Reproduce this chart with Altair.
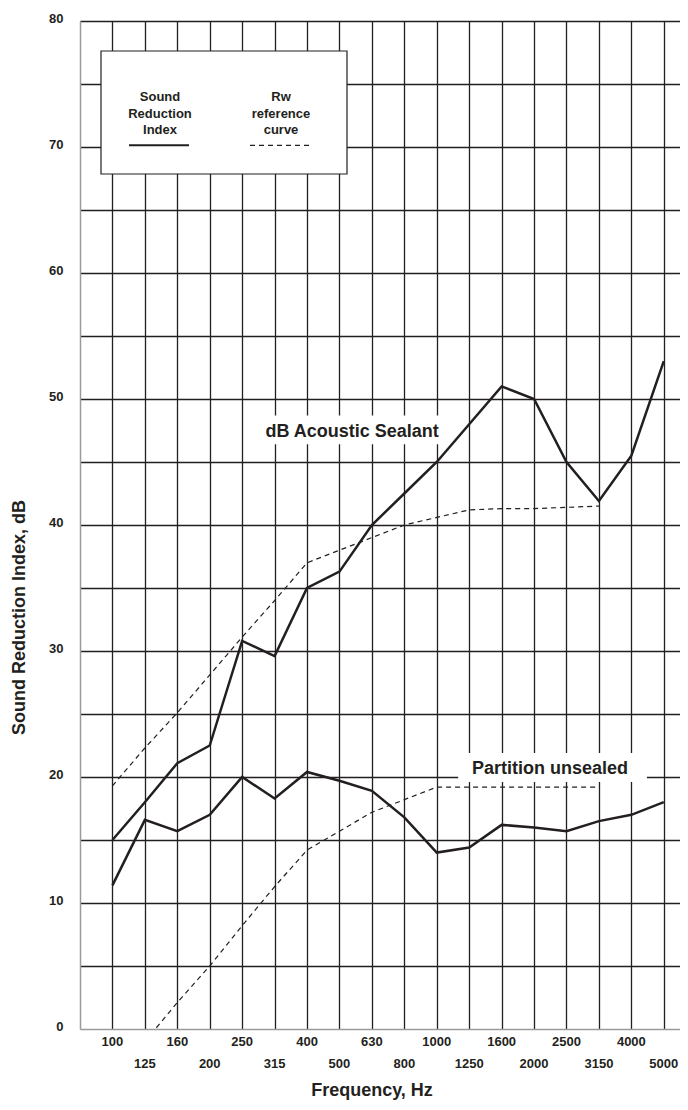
import altair as alt
import pandas as pd

# ---- data ----
bands = ["100", "125", "160", "200", "250", "315", "400", "500", "630",
         "800", "1000", "1250", "1600", "2000", "2500", "3150", "4000", "5000"]

sealed = [15.0, 18.0, 21.1, 22.5, 30.8, 29.6, 35.0, 36.3, 40.0,
          42.5, 45.0, 48.0, 51.0, 50.0, 45.0, 41.9, 45.5, 53.0]
unsealed = [11.4, 16.6, 15.7, 17.0, 20.0, 18.3, 20.4, 19.7, 18.9,
            16.8, 14.0, 14.4, 16.2, 16.0, 15.7, 16.5, 17.0, 18.0]

# Rw reference curves (100..3150 Hz and 125..3150 Hz)
ref_sealed = [19.3, 22.3, 25.1, 28.1, 31.1, 34.0, 37.0, 38.0, 39.0,
              40.0, 40.6, 41.2, 41.3, 41.3, 41.4, 41.5]
ref_unsealed_start = 1  # starts at 125 Hz
ref_unsealed = [-1.0, 2.1, 5.0, 8.2, 11.3, 14.2, 15.7, 17.2,
                18.2, 19.2, 19.2, 19.2, 19.2, 19.2, 19.2]

annot_text = ["dB Acoustic Sealant", "Partition unsealed"]
annot_x = [7.39, 13.49]
annot_y = [47.4, 20.6]
box_x1 = [4.4, 10.66]
box_x2 = [10.3, 16.48]
box_y1 = [46.4, 19.6]
box_y2 = [48.7, 21.9]

# ---- tables ----
rows = []
for i, v in enumerate(sealed):
    rows.append({"idx": i, "value": v, "series": "sealed"})
for i, v in enumerate(unsealed):
    rows.append({"idx": i, "value": v, "series": "unsealed"})
solid_df = pd.DataFrame(rows)

rows = []
for i, v in enumerate(ref_sealed):
    rows.append({"idx": i, "value": v, "series": "ref_sealed"})
for j, v in enumerate(ref_unsealed):
    rows.append({"idx": j + ref_unsealed_start, "value": v, "series": "ref_unsealed"})
dash_df = pd.DataFrame(rows)

lab_df = pd.DataFrame({"idx": list(range(len(bands))), "band": bands,
                       "row": [i % 2 for i in range(len(bands))]})
ann_df = pd.DataFrame({"text": annot_text, "x": annot_x, "value": annot_y,
                       "x1": box_x1, "x2": box_x2, "y1": box_y1, "y2": box_y2})
one = pd.DataFrame({"k": [0]})

W, H = 600, 1008
INK = "#231f20"
FONT = "Liberation Sans"


def X(field):
    return alt.X(field, type="quantitative",
                 scale=alt.Scale(domain=[-1, 17.5], nice=False, zero=False),
                 axis=alt.Axis(values=list(range(len(bands))), labels=False, ticks=False,
                               grid=True, gridColor=INK, gridWidth=1.3,
                               domainColor="#9a9a9a", domainWidth=1.5,
                               title="Frequency, Hz", titleFontSize=18,
                               titleFontWeight="bold", titleColor=INK,
                               titleX=291.5, titleY=66, titleAlign="center",
                               titleBaseline="alphabetic"))


def Y(field):
    return alt.Y(field, type="quantitative",
                 scale=alt.Scale(domain=[0, 80], nice=False),
                 axis=alt.Axis(values=list(range(0, 85, 5)),
                               labelExpr="datum.value % 10 == 0 ? datum.label : ''",
                               ticks=False, labelPadding=17, labelOffset=-3,
                               labelFontSize=13, labelFontWeight="bold", labelColor=INK,
                               grid=True, gridWidth=1.3,
                               gridColor={"condition": {"test": "datum.value == 0",
                                                        "value": "transparent"},
                                          "value": INK},
                               domainColor="#9a9a9a", domainWidth=1.5,
                               title="Sound Reduction Index, dB", titleFontSize=18,
                               titleFontWeight="bold", titleColor=INK,
                               titleAngle=-90, titleX=-61, titleY=596,
                               titleAlign="center", titleBaseline="middle"))


boxes = alt.Chart(ann_df).mark_rect(fill="white", stroke=None).encode(
    x=X("x1"), x2="x2", y=Y("y1"), y2="y2")
ann_text = alt.Chart(ann_df).mark_text(fontSize=18, fontWeight="bold", color=INK,
                                       baseline="middle", align="center").encode(
    x=X("x"), y=Y("value"), text="text:N")

solid = alt.Chart(solid_df).mark_line(color=INK, strokeWidth=2.5, clip=True).encode(
    x=X("idx"), y=Y("value"), detail="series:N")
dashed = alt.Chart(dash_df).mark_line(color=INK, strokeWidth=1.2, strokeDash=[5, 4],
                                      clip=True).encode(
    x=X("idx"), y=Y("value"), detail="series:N")

xlab1 = alt.Chart(lab_df).transform_filter("datum.row == 0").mark_text(
    fontSize=13, fontWeight="bold", color=INK, baseline="middle").encode(
    x=X("idx"), y=alt.value(H + 13), text="band:N")
xlab2 = alt.Chart(lab_df).transform_filter("datum.row == 1").mark_text(
    fontSize=13, fontWeight="bold", color=INK, baseline="middle").encode(
    x=X("idx"), y=alt.value(H + 34.5), text="band:N")

# legend box
leg_rect = alt.Chart(one).mark_rect(fill="white", stroke=INK, strokeWidth=1.2).encode(
    x=alt.value(21), x2=alt.value(267), y=alt.value(30), y2=alt.value(153))
leg_t1 = alt.Chart(one).mark_text(text="Sound\nReduction\nIndex", lineBreak="\n",
                                  lineHeight=16.5, fontSize=13, fontWeight="bold",
                                  color=INK, baseline="middle", align="center").encode(
    x=alt.value(80), y=alt.value(76))
leg_t2 = alt.Chart(one).mark_text(text="Rw\nreference\ncurve", lineBreak="\n",
                                  lineHeight=16.5, fontSize=13, fontWeight="bold",
                                  color=INK, baseline="middle", align="center").encode(
    x=alt.value(201), y=alt.value(76))
leg_l1 = alt.Chart(one).mark_rule(color=INK, strokeWidth=2).encode(
    x=alt.value(49), x2=alt.value(109), y=alt.value(124.3))
leg_l2 = alt.Chart(one).mark_rule(color=INK, strokeWidth=1.2, strokeDash=[5, 4]).encode(
    x=alt.value(170), x2=alt.value(229), y=alt.value(124.3))

chart = alt.layer(
    boxes, dashed, solid, ann_text, xlab1, xlab2,
    leg_rect, leg_t1, leg_t2, leg_l1, leg_l2
).properties(
    width=W, height=H,
    padding={"left": 72, "top": 13, "right": 0, "bottom": 73},
    autosize=alt.AutoSizeParams(type="none"),
    background="white",
).configure_view(stroke=None).configure(font=FONT)

chart.save("out.html", embed_options={"renderer": "svg", "actions": False})
